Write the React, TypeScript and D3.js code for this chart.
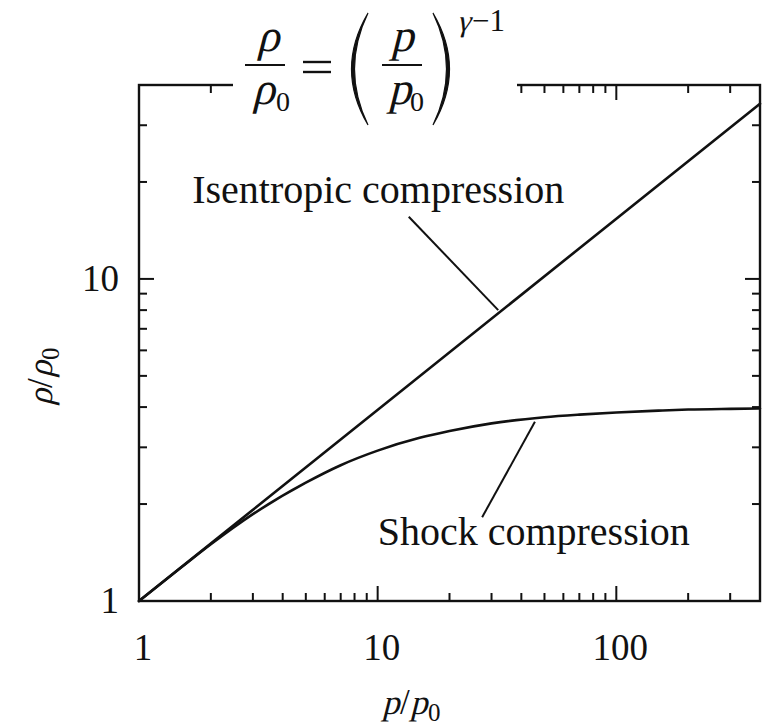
import * as d3 from "d3";

// axis extents (p/p0 horizontally, rho/rho0 vertically)
const xDomain: [number, number] = [1, 400];
const yDomain: [number, number] = [1, 40];
const xMajor = [1, 10, 100];
const yMajor = [1, 10];

// isentropic compression: straight line on log-log axes
const isentropicP = [1, 400];
const isentropicRho = [1, 35];

// shock compression
const shockP = [1, 1.5, 2, 3, 5, 7, 10, 15, 20, 30, 50, 70, 100, 150, 200, 300, 400];
const shockRho = [1, 1.27, 1.5, 1.86, 2.33, 2.64, 2.93, 3.21, 3.37, 3.56, 3.72, 3.79, 3.85, 3.9, 3.93, 3.95, 3.96];

// annotation anchors, in data units
const isenLabel = { text: "Isentropic compression", p: 1.67, rho: 17.2 };
const isenLeader: [number, number][] = [[13.5, 15.6], [32, 8.0]];
const shockLabel = { text: "Shock compression", p: 10.0, rho: 1.49 };
const shockLeader: [number, number][] = [[45.6, 3.6], [27.4, 1.82]];

const width = 767;
const height = 726;
const left = 139;
const right = 760;
const top = 85;
const bottom = 601;

const serif = "'Liberation Serif', 'Times New Roman', serif";

// italic faces are not around, so slant the roman glyphs by hand
function Slant({ x, y, size, anchor, children }: { x: number; y: number; size: number; anchor?: string; children: any }) {
  return (
    <text transform={`translate(${x},${y}) skewX(-14)`} fontSize={size} textAnchor={anchor ?? "start"}>
      {children}
    </text>
  );
}

// "v/v0" as used on both axes
function RatioLabel({ sym, x, y }: { sym: string; x: number; y: number }) {
  return (
    <g transform={`translate(${x},${y})`} fill="#111">
      <Slant x={0} y={0} size={35}>{sym}</Slant>
      <text x={18} y={0} fontSize={35}>/</text>
      <Slant x={28} y={0} size={35}>{sym}</Slant>
      <text x={46} y={7} fontSize={25}>0</text>
    </g>
  );
}

export default function App() {
  const x = d3.scaleLog().domain(xDomain).range([left, right]);
  const y = d3.scaleLog().domain(yDomain).range([bottom, top]);

  const xTicks = x.ticks().filter((t) => t > xDomain[0] && t < xDomain[1]);
  const yTicks = y.ticks().filter((t) => t > yDomain[0] && t < yDomain[1]);
  const isMajor = (t: number) => Math.abs(Math.log10(t) - Math.round(Math.log10(t))) < 1e-9;

  const line = d3
    .line<[number, number]>()
    .x((d) => x(d[0]))
    .y((d) => y(d[1]))
    .curve(d3.curveMonotoneX);

  const isen: [number, number][] = isentropicP.map((p, i) => [p, isentropicRho[i]]);
  const shock: [number, number][] = shockP.map((p, i) => [p, shockRho[i]]);

  const majorLen = 15;
  const minorLen = 8;

  // the formula sits on a white patch over the top frame
  const gapL = 233;
  const gapR = 517;

  return (
    <svg
      width={width}
      height={height}
      style={{ position: "absolute", left: 0, top: 0, background: "#fff" }}
      fontFamily={serif}
    >
      <rect width={width} height={height} fill="#fff" />

      {/* curves */}
      <g fill="none" stroke="#111" strokeWidth={2.6} strokeLinecap="round">
        <path d={line(isen) ?? ""} />
        <path d={line(shock) ?? ""} />
      </g>

      {/* frame */}
      <rect
        x={left}
        y={top}
        width={right - left}
        height={bottom - top}
        fill="none"
        stroke="#111"
        strokeWidth={2.4}
      />

      {/* ticks, inward on all four sides */}
      <g stroke="#111" strokeWidth={2}>
        {xTicks.map((t) => {
          const len = isMajor(t) ? majorLen : minorLen;
          const xx = x(t);
          return (
            <g key={"x" + t}>
              <line x1={xx} x2={xx} y1={bottom} y2={bottom - len} />
              {(xx < gapL || xx > gapR) && <line x1={xx} x2={xx} y1={top} y2={top + len} />}
            </g>
          );
        })}
        {yTicks.map((t) => {
          const len = isMajor(t) ? majorLen : minorLen;
          const yy = y(t);
          return (
            <g key={"y" + t}>
              <line x1={left} x2={left + len} y1={yy} y2={yy} />
              <line x1={right} x2={right - len} y1={yy} y2={yy} />
            </g>
          );
        })}
      </g>

      {/* tick labels */}
      <g fontSize={37} fill="#111">
        {xMajor.map((t) => (
          <text key={"xl" + t} x={x(t) + 4} y={bottom + 59} textAnchor="middle">
            {t}
          </text>
        ))}
        {yMajor.map((t) => (
          <text key={"yl" + t} x={left - 20} y={y(t) + 12} textAnchor="end">
            {t}
          </text>
        ))}
      </g>

      {/* axis titles */}
      <RatioLabel sym="p" x={382} y={714} />
      <g transform="translate(52,376) rotate(-90)">
        <RatioLabel sym="ρ" x={-30} y={0} />
      </g>

      {/* annotations */}
      <g fontSize={40} fill="#111">
        <text x={x(isenLabel.p)} y={y(isenLabel.rho)}>{isenLabel.text}</text>
        <text x={x(shockLabel.p)} y={y(shockLabel.rho)}>{shockLabel.text}</text>
      </g>
      <g stroke="#111" strokeWidth={2}>
        <line
          x1={x(isenLeader[0][0])}
          y1={y(isenLeader[0][1])}
          x2={x(isenLeader[1][0])}
          y2={y(isenLeader[1][1])}
        />
        <line
          x1={x(shockLeader[0][0])}
          y1={y(shockLeader[0][1])}
          x2={x(shockLeader[1][0])}
          y2={y(shockLeader[1][1])}
        />
      </g>

      {/* formula over the top edge */}
      <rect x={gapL} y={top - 6} width={gapR - gapL} height={14} fill="#fff" />
      <g fill="#111">
        <Slant x={268} y={51} size={46} anchor="middle">ρ</Slant>
        <line x1={245} x2={285} y1={65} y2={65} stroke="#111" strokeWidth={2} />
        <Slant x={252} y={104} size={46}>ρ</Slant>
        <text x={276} y={111} fontSize={28}>0</text>
        <line x1={303} x2={331} y1={62} y2={62} stroke="#111" strokeWidth={2.4} />
        <line x1={303} x2={331} y1={72} y2={72} stroke="#111" strokeWidth={2.4} />
        <path d="M368,13 Q335,69 368,125 Q341,69 368,13 Z" stroke="#111" strokeWidth={1.2} />
        <Slant x={402} y={51} size={46} anchor="middle">p</Slant>
        <line x1={382} x2={422} y1={65} y2={65} stroke="#111" strokeWidth={2} />
        <Slant x={388} y={104} size={46}>p</Slant>
        <text x={410} y={111} fontSize={28}>0</text>
        <path d="M433,13 Q466,69 433,125 Q460,69 433,13 Z" stroke="#111" strokeWidth={1.2} />
        <Slant x={457} y={31} size={30}>γ</Slant>
        <text x={472} y={31} fontSize={31}>−1</text>
      </g>
    </svg>
  );
}
